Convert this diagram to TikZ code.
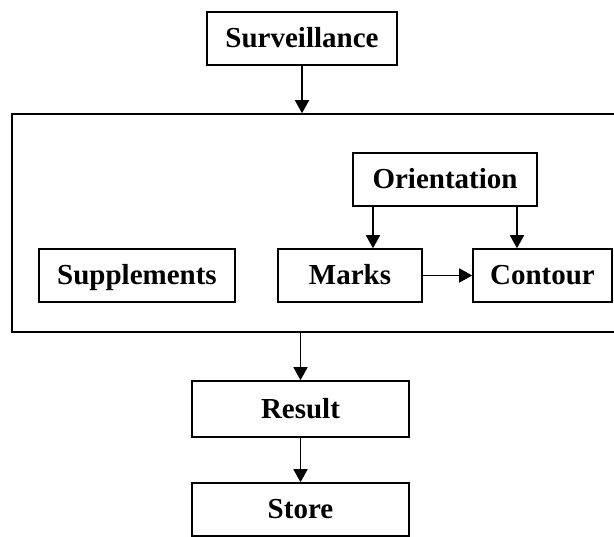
\documentclass[tikz,border=0pt]{standalone}
\usepackage{fontspec}
\setmainfont{Liberation Serif}
\usetikzlibrary{arrows.meta}

\begin{document}
\begin{tikzpicture}[x=1pt,y=-1pt,line width=1.6pt,
  box/.style={draw,inner sep=0pt,minimum height=53pt,text height=21pt,text depth=2pt,
    font=\fontsize{29}{32}\selectfont\bfseries},
  arr/.style={-{Triangle[length=13pt,width=14pt]}}]
\useasboundingbox (0,0) rectangle (614,537);
\clip (0,0) rectangle (614,537);
\node[box,minimum width=190pt] (surv) at (302,38.5) {Surveillance};
\node[draw,inner sep=0pt,minimum width=608pt,minimum height=218pt] (frame) at (316,223) {};
\node[box,minimum width=184pt] (orient) at (445,179.5) {Orientation};
\node[box,minimum width=196pt] (suppl) at (137,275.5) {Supplements};
\node[box,minimum width=144pt] (marks) at (350,275.5) {Marks};
\node[box,minimum width=139pt] (cont) at (542.5,275.5) {Contour};
\node[box,minimum width=217pt,minimum height=56pt] (res) at (300.5,409) {Result};
\node[box,minimum width=217pt] (store) at (300.5,509.5) {Store};
% connectors
\draw[arr] (surv.south) -- (surv.south |- frame.north);
\draw[arr] ([xshift=-72pt]orient.south) -- ([xshift=-72pt]orient.south |- marks.north);
\draw[arr] ([xshift=72pt]orient.south) -- ([xshift=72pt]orient.south |- cont.north);
\draw[arr] (marks.east) -- (cont.west);
\draw[arr] (frame.south -| res.north) -- (res.north);
\draw[arr] (res.south) -- (store.north);
\end{tikzpicture}
\end{document}
